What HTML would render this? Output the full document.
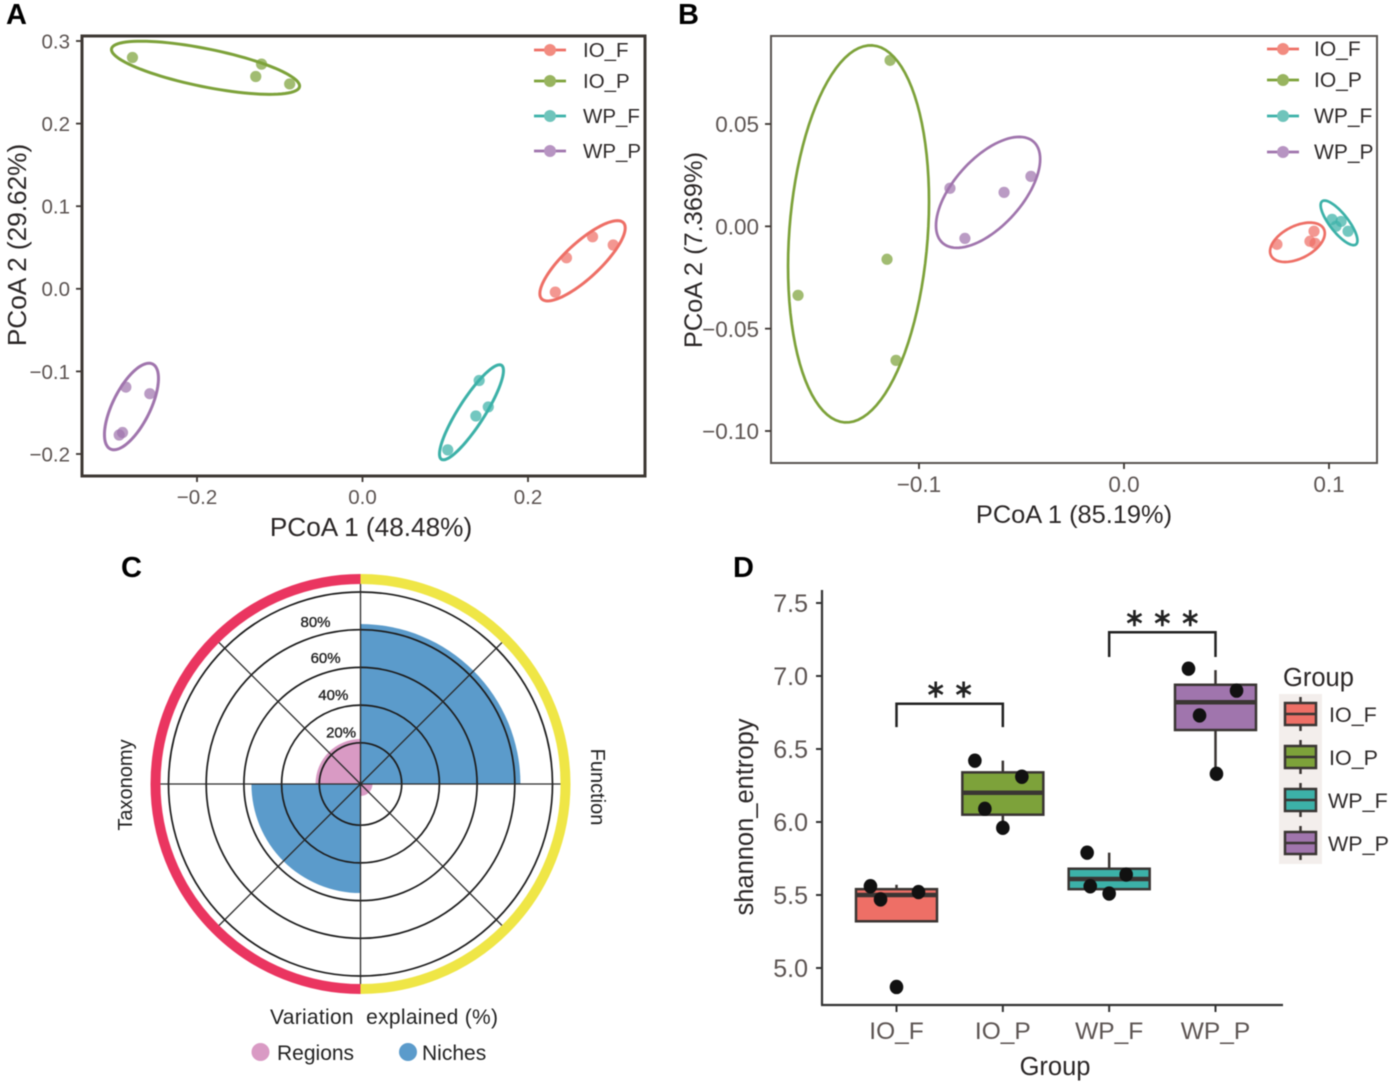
<!DOCTYPE html>
<html lang="en">
<head>
<meta charset="utf-8">
<title>PCoA, variation explained and Shannon entropy</title>
<style>
html,body{margin:0;padding:0;background:#fff;}
svg{display:block;filter:blur(0.5px);}
text{font-family:"Liberation Sans",sans-serif;}
.tick{font-size:20px;fill:#5c5452;}
.title{font-size:25.5px;fill:#2b2727;}
.leg{font-size:20.5px;fill:#2f2b2b;}
.panel{font-size:29px;font-weight:bold;fill:#000;}
.ctxt{font-size:20px;fill:#222;}
</style>
</head>
<body>
<svg id="fig" xmlns="http://www.w3.org/2000/svg" width="1397" height="1085" viewBox="0 0 1397 1085">
  <rect width="1397" height="1085" fill="#fff"/>

  <text class="panel" x="6" y="24">A</text>
  <text class="panel" x="678" y="24">B</text>
  <text class="panel" x="121" y="577">C</text>
  <text class="panel" x="733" y="577">D</text>

  <!-- Panel A -->
  <g id="panelA">
    <rect x="82" y="36" width="563" height="440" fill="none" stroke="#3d3733" stroke-width="3"/>
    <text class="title" x="371" y="536" text-anchor="middle" style="font-size:26.2px">PCoA 1 (48.48%)</text>
    <text class="title" x="26" y="245" text-anchor="middle" transform="rotate(-90 26 245)" style="font-size:26.2px">PCoA 2 (29.62%)</text>
    <g>
      <g><line x1="534" x2="566" y1="50" y2="50" stroke="#ee6f66" stroke-width="2.8"/><circle cx="550" cy="50" r="6" fill="#f28b80"/><text class="leg" x="583" y="57">IO_F</text></g>
      <g><line x1="534" x2="566" y1="81" y2="81" stroke="#7da23a" stroke-width="2.8"/><circle cx="550" cy="81" r="6" fill="#98b45f"/><text class="leg" x="583" y="88">IO_P</text></g>
      <g><line x1="534" x2="566" y1="116" y2="116" stroke="#3cb1a8" stroke-width="2.8"/><circle cx="550" cy="116" r="6" fill="#6fc4bb"/><text class="leg" x="583" y="123">WP_F</text></g>
      <g><line x1="534" x2="566" y1="151" y2="151" stroke="#a075ad" stroke-width="2.8"/><circle cx="550" cy="151" r="6" fill="#b794c2"/><text class="leg" x="583" y="158">WP_P</text></g>
    </g>
  </g>

  <!-- Panel B -->
  <g id="panelB">
    <rect x="771" y="36" width="606" height="427" fill="none" stroke="#5a5552" stroke-width="2"/>
    <text class="title" x="1074" y="523" text-anchor="middle" style="font-size:25.4px">PCoA 1 (85.19%)</text>
    <text class="title" x="702" y="250" text-anchor="middle" transform="rotate(-90 702 250)" style="font-size:25.4px">PCoA 2 (7.369%)</text>
    <g>
      <g><line x1="1267" x2="1299" y1="49" y2="49" stroke="#ee6f66" stroke-width="2.8"/><circle cx="1283" cy="49" r="6" fill="#f28b80"/><text class="leg" x="1314" y="56" style="font-size:21px">IO_F</text></g>
      <g><line x1="1267" x2="1299" y1="80" y2="80" stroke="#7da23a" stroke-width="2.8"/><circle cx="1283" cy="80" r="6" fill="#98b45f"/><text class="leg" x="1314" y="87" style="font-size:21px">IO_P</text></g>
      <g><line x1="1267" x2="1299" y1="116" y2="116" stroke="#3cb1a8" stroke-width="2.8"/><circle cx="1283" cy="116" r="6" fill="#6fc4bb"/><text class="leg" x="1314" y="123" style="font-size:21px">WP_F</text></g>
      <g><line x1="1267" x2="1299" y1="152" y2="152" stroke="#a075ad" stroke-width="2.8"/><circle cx="1283" cy="152" r="6" fill="#b794c2"/><text class="leg" x="1314" y="159" style="font-size:21px">WP_P</text></g>
    </g>
  </g>

  <!-- Panel C -->
  <g id="panelC">
    <text class="ctxt" x="132" y="785" text-anchor="middle" transform="rotate(-90 132 785)">Taxonomy</text>
    <text class="ctxt" x="591" y="787" text-anchor="middle" transform="rotate(90 591 787)">Function</text>
    <text class="ctxt" x="270" y="1024" textLength="228" lengthAdjust="spacing" xml:space="preserve" style="font-size:21px">Variation  explained (%)</text>
    <g><circle cx="260.500" cy="1052" r="9" fill="#d99ac4"/><text class="ctxt" x="277" y="1060" style="font-size:21px">Regions</text></g>
    <g><circle cx="408" cy="1052" r="9" fill="#5b9bcb"/><text class="ctxt" x="422" y="1060" style="font-size:21px">Niches</text></g>
  </g>

  <!-- Panel D -->
  <g id="panelD">
    <line x1="822" x2="822" y1="590" y2="1005" stroke="#333" stroke-width="2.2"/>
    <line x1="821" x2="1283" y1="1005" y2="1005" stroke="#333" stroke-width="2.2"/>
    <text class="title" x="1055" y="1075" text-anchor="middle">Group</text>
    <text class="title" x="753" y="817" text-anchor="middle" transform="rotate(-90 753 817)">shannon_entropy</text>
    <rect x="1279" y="694" width="43" height="170" fill="#f3eeec"/>
    <text class="title" x="1283" y="686">Group</text>
    <g><line x1="1300.500" x2="1300.500" y1="697" y2="731" stroke="#3a3533" stroke-width="2.500"/><rect x="1285" y="703" width="31" height="22" fill="#ee6f66" stroke="#3a3533" stroke-width="2.500"/><line x1="1285" x2="1316" y1="714" y2="714" stroke="#3a3533" stroke-width="2.500"/><text class="leg" x="1329" y="722" style="font-size:21.500px">IO_F</text></g>
    <g><line x1="1300.500" x2="1300.500" y1="740" y2="774" stroke="#3a3533" stroke-width="2.500"/><rect x="1285" y="746" width="31" height="22" fill="#7da23a" stroke="#3a3533" stroke-width="2.500"/><line x1="1285" x2="1316" y1="757" y2="757" stroke="#3a3533" stroke-width="2.500"/><text class="leg" x="1329" y="765" style="font-size:21.500px">IO_P</text></g>
    <g><line x1="1300.500" x2="1300.500" y1="783" y2="817" stroke="#3a3533" stroke-width="2.500"/><rect x="1285" y="789" width="31" height="22" fill="#3cb1a8" stroke="#3a3533" stroke-width="2.500"/><line x1="1285" x2="1316" y1="800" y2="800" stroke="#3a3533" stroke-width="2.500"/><text class="leg" x="1328" y="808" style="font-size:21.500px">WP_F</text></g>
    <g><line x1="1300.500" x2="1300.500" y1="826" y2="860" stroke="#3a3533" stroke-width="2.500"/><rect x="1285" y="832" width="31" height="22" fill="#a075ad" stroke="#3a3533" stroke-width="2.500"/><line x1="1285" x2="1316" y1="843" y2="843" stroke="#3a3533" stroke-width="2.500"/><text class="leg" x="1328" y="851" style="font-size:21.500px">WP_P</text></g>
  </g>
</svg>

<script>
// ---------- Shared ----------
const groupColors = ['#ee6f66', '#7da23a', '#3cb1a8', '#a075ad'];

// ---------- Panel A data ----------
const aXTicks = [-0.2, 0, 0.2];
const aXTickLabels = ['\u22120.2', '0.0', '0.2'];
const aYTicks = [-0.2, -0.1, 0, 0.1, 0.2, 0.3];
const aYTickLabels = ['\u22120.2', '\u22120.1', '0.0', '0.1', '0.2', '0.3'];
const aPointsX = [
  [0.233, 0.2465, 0.278, 0.303],
  [-0.278, -0.122, -0.129, -0.088],
  [0.103, 0.141, 0.152, 0.137],
  [-0.294, -0.290, -0.286, -0.257]
];
const aPointsY = [
  [-0.004, 0.0375, 0.063, 0.053],
  [0.280, 0.272, 0.257, 0.248],
  [-0.195, -0.111, -0.143, -0.154],
  [-0.177, -0.174, -0.119, -0.127]
];
// ellipse centre and two semi-axis vectors, in data units
const aEllipseCentreX = [0.2659, -0.1897, 0.1317, -0.2792];
const aEllipseCentreY = [0.0339, 0.2676, -0.1495, -0.1425];
const aEllipseMajorX = [0.0495, 0.1136, 0.0363, 0.0254];
const aEllipseMajorY = [0.0460, -0.0230, 0.0569, 0.0515];
const aEllipseMinorX = [0.0145, -0.0046, 0.0133, 0.0205];
const aEllipseMinorY = [-0.0157, -0.0225, -0.0085, -0.0097];

// ---------- Panel B data ----------
const bXTicks = [-0.1, 0, 0.1];
const bXTickLabels = ['\u22120.1', '0.0', '0.1'];
const bYTicks = [-0.10, -0.05, 0, 0.05];
const bYTickLabels = ['\u22120.10', '\u22120.05', '0.00', '0.05'];
const bPointsX = [
  [0.0746, 0.0927, 0.0907, 0.0932],
  [-0.1141, -0.1156, -0.1590, -0.1112],
  [0.1015, 0.1059, 0.1034, 0.1093],
  [-0.0849, -0.0585, -0.0454, -0.0776]
];
const bPointsY = [
  [-0.0088, -0.0024, -0.0073, -0.0083],
  [0.0811, -0.0161, -0.0337, -0.0655],
  [0.0034, 0.0024, 0, -0.0024],
  [0.0186, 0.0166, 0.0244, -0.0059]
];
const bEllipseCentreX = [0.0846, -0.1295, 0.1049, -0.0663];
const bEllipseCentreY = [-0.0078, -0.0037, 0.0017, 0.0166];
const bEllipseMajorX = [0.0127, 0.0068, 0.0083, 0.0220];
const bEllipseMajorY = [0.0068, 0.0921, -0.0105, 0.0249];
const bEllipseMinorX = [0.0041, 0.0337, 0.0034, 0.0127];
const bEllipseMinorY = [-0.0068, -0.0024, 0.0029, -0.0107];

// ---------- Panel C data (quadrants clockwise from 12 o'clock) ----------
const polarNiches = [83, 0, 56, 0];
const polarRegions = [0, 4.5, 0, 22];
const polarGridLevels = [20, 40, 60, 80, 100];
const polarTickLabels = ['20%', '40%', '60%', '80%'];
const polarSpokesDeg = [0, 45, 90, 135, 180, 225, 270, 315];

// ---------- Panel D data ----------
const boxCategories = ['IO_F', 'IO_P', 'WP_F', 'WP_P'];
const boxQ1 = [5.32, 6.05, 5.54, 6.63];
const boxMedian = [5.50, 6.20, 5.61, 6.82];
const boxQ3 = [5.54, 6.34, 5.68, 6.94];
const boxWhiskerLow = [5.32, 5.96, 5.50, 6.33];
const boxWhiskerHigh = [5.57, 6.42, 5.79, 7.04];
const boxPointValues = [
  [5.56, 5.47, 5.52, 4.87],
  [6.42, 6.31, 6.09, 5.96],
  [5.79, 5.64, 5.56, 5.51],
  [7.05, 6.90, 6.73, 6.33]
];
const boxPointJitter = [
  [-0.245, -0.15, 0.207, 0],
  [-0.263, 0.179, -0.169, 0],
  [-0.207, 0.16, -0.178, 0],
  [-0.254, 0.198, -0.15, 0.009]
];
const boxYTicks = [5.0, 5.5, 6.0, 6.5, 7.0, 7.5];
const boxYTickLabels = ['5.0', '5.5', '6.0', '6.5', '7.0', '7.5'];
const bracketFrom = [0, 2];
const bracketTo = [1, 3];
const bracketTop = [6.81, 7.30];
const bracketLow = [6.65, 7.13];
const bracketStars = ['\u2217 \u2217', '\u2217 \u2217 \u2217'];

// ---------- Helpers ----------
const NS = 'http://www.w3.org/2000/svg';
function mk(tag, attrs, parent) {
  const el = document.createElementNS(NS, tag);
  for (const k in attrs) el.setAttribute(k, attrs[k]);
  parent.appendChild(el);
  return el;
}
function linear(d0, d1, r0, r1) {
  return v => r0 + (v - d0) * (r1 - r0) / (d1 - d0);
}

function drawPcoa(parent, o) {
  const x = o.x, y = o.y;
  o.xTicks.forEach((t, i) => {
    const tl = mk('line', {x1: x(t), x2: x(t), y1: o.bottom, y2: o.bottom + 6, stroke: '#3d3733', 'stroke-width': 1.8}, parent);
    
    
    const lb = mk('text', {x: x(t), y: o.xLabelY, 'text-anchor': 'middle', class: 'tick', style: 'font-size:' + o.fs + 'px'}, parent);
    lb.textContent = o.xLabels[i];
    
    
  });
  o.yTicks.forEach((t, i) => {
    const tl = mk('line', {x1: o.left - 6, x2: o.left, y1: y(t), y2: y(t), stroke: '#3d3733', 'stroke-width': 1.8}, parent);
    
    
    const lb = mk('text', {x: o.left - 12, y: y(t) + o.fs * 0.36, 'text-anchor': 'end', class: 'tick', style: 'font-size:' + o.fs + 'px'}, parent);
    lb.textContent = o.yLabels[i];
    
    
  });
  groupColors.forEach((col, g) => {
    let d = '';
    for (let k = 0; k <= 96; k++) {
      const t = k / 96 * 2 * Math.PI;
      const ex = o.cx[g] + o.ax[g] * Math.cos(t) + o.bx[g] * Math.sin(t);
      const ey = o.cy[g] + o.ay[g] * Math.cos(t) + o.by[g] * Math.sin(t);
      d += (k ? 'L' : 'M') + x(ex).toFixed(2) + ' ' + y(ey).toFixed(2);
    }
    const e = mk('path', {d: d + 'Z', fill: 'none', stroke: col, 'stroke-width': o.sw}, parent);
    
    
    o.px[g].forEach((v, i) => {
      const c = mk('circle', {cx: x(v), cy: y(o.py[g][i]), r: 5.6, fill: col, 'fill-opacity': 0.72}, parent);
      
      
    });
  });
}

// ---------- Draw A ----------
drawPcoa(document.getElementById('panelA'), {
  x: linear(-0.2, 0.2, 197, 528), y: linear(-0.2, 0.3, 454, 41),
  left: 82, bottom: 476, xLabelY: 504, fs: 20.5, sw: 3,
  xTicks: aXTicks, xLabels: aXTickLabels, yTicks: aYTicks, yLabels: aYTickLabels,
  px: aPointsX, py: aPointsY,
  cx: aEllipseCentreX, cy: aEllipseCentreY, ax: aEllipseMajorX, ay: aEllipseMajorY, bx: aEllipseMinorX, by: aEllipseMinorY
});

// ---------- Draw B ----------
drawPcoa(document.getElementById('panelB'), {
  x: linear(-0.1, 0.1, 919, 1329), y: linear(-0.10, 0.05, 431, 124),
  left: 771, bottom: 463, xLabelY: 492, fs: 22.5, sw: 2.7,
  xTicks: bXTicks, xLabels: bXTickLabels, yTicks: bYTicks, yLabels: bYTickLabels,
  px: bPointsX, py: bPointsY,
  cx: bEllipseCentreX, cy: bEllipseCentreY, ax: bEllipseMajorX, ay: bEllipseMajorY, bx: bEllipseMinorX, by: bEllipseMinorY
});

// ---------- Draw C ----------
(function () {
  const parent = document.getElementById('panelC');
  const cx = 360.5, cy = 784;
  const radius = v => 3.5 + v * 1.885;
  function point(r, deg) {
    const a = deg * Math.PI / 180;
    return [cx + r * Math.sin(a), cy - r * Math.cos(a)];
  }
  function wedge(v, q) {
    const r = radius(v);
    const s = point(r, q * 90), e = point(r, (q + 1) * 90);
    return 'M' + cx + ' ' + cy + 'L' + s[0] + ' ' + s[1] + 'A' + r + ' ' + r + ' 0 0 1 ' + e[0] + ' ' + e[1] + 'Z';
  }
  polarRegions.forEach((v, q) => {
    if (!v) return;
    const w = mk('path', {d: wedge(v, q), fill: '#d99ac4'}, parent);
    
    
  });
  polarNiches.forEach((v, q) => {
    if (!v) return;
    const w = mk('path', {d: wedge(v, q), fill: '#5b9bcb'}, parent);
    
    
  });
  polarGridLevels.forEach(v => {
    const c = mk('circle', {cx: cx, cy: cy, r: radius(v), fill: 'none', stroke: '#1d1d1d', 'stroke-width': 1.7}, parent);
    
    
  });
  polarSpokesDeg.forEach(deg => {
    const p = point(201, deg);
    const s = mk('line', {x1: cx, y1: cy, x2: p[0], y2: p[1], stroke: '#2a2a2a', 'stroke-width': 1.3}, parent);
    
    
  });
  const left = mk('path', {d: 'M' + cx + ' ' + (cy - 205) + 'A205 205 0 0 0 ' + cx + ' ' + (cy + 205), fill: 'none', stroke: '#ea3560', 'stroke-width': 10}, parent);
  
  
  const right = mk('path', {d: 'M' + cx + ' ' + (cy - 205) + 'A205 205 0 0 1 ' + cx + ' ' + (cy + 205), fill: 'none', stroke: '#efe646', 'stroke-width': 10}, parent);
  
  
  const labelAngleFor = i => -20.6 + 5.1 * Math.min(i, 1) * (i === 1 ? 0.7 : 1);
  polarTickLabels.forEach((lab, i) => {
    const p = point(radius(polarGridLevels[i]) + 14, labelAngleFor(i));
    const t = mk('text', {x: p[0], y: p[1] + 5, 'text-anchor': 'middle', style: 'font-size:15px;fill:#222;stroke:#222;stroke-width:0.35'}, parent);
    t.textContent = lab;
    
    
  });
})();

// ---------- Draw D ----------
(function () {
  const parent = document.getElementById('panelD');
  const x = linear(0, 3, 896.5, 1215.5);
  const y = linear(5, 7.5, 968, 603);
  const halfBox = 40.5, stroke = '#3a3533';
  boxYTicks.forEach((t, i) => {
    const tl = mk('line', {x1: 816, x2: 822, y1: y(t), y2: y(t), stroke: '#333', 'stroke-width': 2}, parent);
    
    
    const lb = mk('text', {x: 808, y: y(t) + 9, 'text-anchor': 'end', class: 'tick', style: 'font-size:25px'}, parent);
    lb.textContent = boxYTickLabels[i];
    
    
  });
  boxCategories.forEach((cat, i) => {
    const cxp = x(i);
    const tl = mk('line', {x1: cxp, x2: cxp, y1: 1005, y2: 1012, stroke: '#333', 'stroke-width': 2}, parent);
    
    
    const lb = mk('text', {x: cxp, y: 1039, 'text-anchor': 'middle', class: 'tick', style: 'font-size:24.5px'}, parent);
    lb.textContent = cat;
    
    
    const wh = mk('line', {x1: cxp, x2: cxp, y1: y(boxWhiskerLow[i]), y2: y(boxWhiskerHigh[i]), stroke: stroke, 'stroke-width': 2.5}, parent);
    
    
    const bx = mk('rect', {x: cxp - halfBox, y: y(boxQ3[i]), width: halfBox * 2, height: y(boxQ1[i]) - y(boxQ3[i]), fill: groupColors[i], stroke: stroke, 'stroke-width': 2.5}, parent);
    
    
    const md = mk('line', {x1: cxp - halfBox, x2: cxp + halfBox, y1: y(boxMedian[i]), y2: y(boxMedian[i]), stroke: stroke, 'stroke-width': 4.5}, parent);
    
    
    boxPointValues[i].forEach((v, k) => {
      const c = mk('ellipse', {cx: x(i + boxPointJitter[i][k]), cy: y(v), rx: 6.8, ry: 7.2, fill: '#111'}, parent);
      
      
    });
  });
  bracketTop.forEach((top, i) => {
    const x0 = x(bracketFrom[i]), x1 = x(bracketTo[i]);
    const d = 'M' + x0 + ' ' + y(bracketLow[i]) + 'V' + y(top) + 'H' + x1 + 'V' + y(bracketLow[i]);
    const b = mk('path', {d: d, fill: 'none', stroke: '#222', 'stroke-width': 2.5}, parent);
    
    
    const s = mk('text', {x: (x0 + x1) / 2, y: y(top) - 6, 'text-anchor': 'middle', style: 'font-size:25px;fill:#222;stroke:#222;stroke-width:0.6'}, parent);
    s.textContent = bracketStars[i];
    
    
  });
})();
</script>
</body>
</html>
